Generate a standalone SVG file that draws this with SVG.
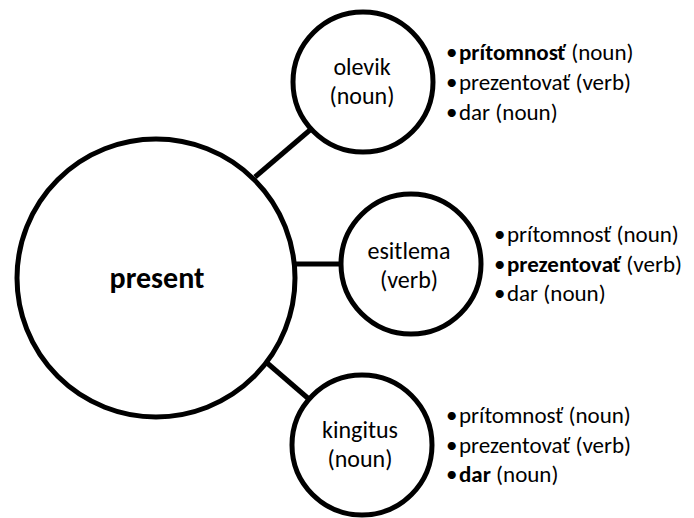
<svg xmlns="http://www.w3.org/2000/svg" width="694" height="518" viewBox="0 0 694 518">
<style>
.node{fill:#fff;stroke:#000;stroke-width:5}
.conn{stroke:#000;stroke-width:5;fill:none}
text{font-family:Carlito,Calibri,Lato,"Liberation Sans",sans-serif;fill:#000}
.lbl{font-size:24px;text-anchor:middle}
.main{font-size:30px;font-weight:bold;text-anchor:middle}
.li{font-size:23px}
.b{font-weight:bold}
</style>
<rect width="694" height="518" fill="#fff"/>
<g id="connectors">
<line class="conn" x1="255" y1="177" x2="310" y2="130"/>
<line class="conn" x1="296" y1="264" x2="342" y2="264"/>
<line class="conn" x1="266" y1="362" x2="310" y2="400"/>
</g>
<g id="present">
<circle class="node" cx="156" cy="278" r="139"/>
<text class="main" x="157" y="288">present</text>
</g>
<g id="olevik">
<circle class="node" cx="363" cy="82" r="70"/>
<text class="lbl" x="362" y="75">olevik</text>
<text class="lbl" x="362" y="104">(noun)</text>
</g>
<g id="esitlema">
<circle class="node" cx="411" cy="264" r="70"/>
<text class="lbl" x="409" y="259">esitlema</text>
<text class="lbl" x="409" y="288">(verb)</text>
</g>
<g id="kingitus">
<circle class="node" cx="362" cy="445" r="70"/>
<text class="lbl" x="360" y="438">kingitus</text>
<text class="lbl" x="360" y="467">(noun)</text>
</g>
<g id="list-olevik">
<text class="li" x="446" y="60">•<tspan x="459" class="b">prítomnosť</tspan> (noun)</text>
<text class="li" x="446" y="90">•<tspan x="459">prezentovať (verb)</tspan></text>
<text class="li" x="446" y="120">•<tspan x="459">dar (noun)</tspan></text>
</g>
<g id="list-esitlema">
<text class="li" x="494" y="242">•<tspan x="507">prítomnosť (noun)</tspan></text>
<text class="li" x="494" y="272">•<tspan x="507" class="b">prezentovať</tspan> (verb)</text>
<text class="li" x="494" y="301">•<tspan x="507">dar (noun)</tspan></text>
</g>
<g id="list-kingitus">
<text class="li" x="446" y="423">•<tspan x="459">prítomnosť (noun)</tspan></text>
<text class="li" x="446" y="453">•<tspan x="459">prezentovať (verb)</tspan></text>
<text class="li" x="446" y="482">•<tspan x="459" class="b">dar</tspan> (noun)</text>
</g>
</svg>
